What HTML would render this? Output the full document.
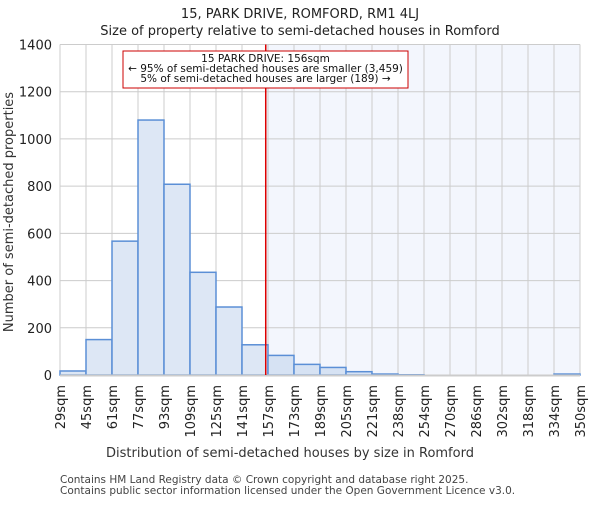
<!DOCTYPE html>
<html><head><meta charset="utf-8"><style>
body{margin:0;background:#fff;}
svg{font-family:"DejaVu Sans","Liberation Sans",sans-serif;}
</style></head><body>
<svg width="600" height="500" xmlns="http://www.w3.org/2000/svg">
<g id="chart"></g>
</svg>
<script>
const binLabels=["29sqm","45sqm","61sqm","77sqm","93sqm","109sqm","125sqm","141sqm","157sqm","173sqm","189sqm","205sqm","221sqm","238sqm","254sqm","270sqm","286sqm","302sqm","318sqm","334sqm","350sqm"];
const counts=[17,150,567,1080,808,435,288,128,83,45,32,14,4,1,0,0,0,0,0,4];
const yTicks=[0,200,400,600,800,1000,1200,1400];
const markerValue=156;
const binStart=29, binWidth=16.05;
const x0=60,x1=580,yTop=44.5,yBot=375,yMax=1400;
const ns="http://www.w3.org/2000/svg";
const g=document.getElementById('chart');
const nb=counts.length, bw=(x1-x0)/nb;
const xb=i=>x0+i*bw;
const y=v=>yBot-(v/yMax)*(yBot-yTop);
const xv=v=>x0+(v-binStart)/(binWidth*nb)*(x1-x0);
function el(t,a,txt){const e=document.createElementNS(ns,t);for(const k in a)e.setAttribute(k,a[k]);if(txt!==undefined)e.textContent=txt;g.appendChild(e);return e;}
const mx=xv(markerValue);
let shade=el('rect',{x:mx,y:yTop,width:x1-mx,height:yBot-yTop,fill:'#f3f6fd'});


for(let i=0;i<=nb;i++){let l=el('line',{x1:xb(i),x2:xb(i),y1:yTop,y2:yBot,stroke:'#cccccc','stroke-width':1});

}
yTicks.forEach(v=>{let l=el('line',{x1:x0,x2:x1,y1:y(v),y2:y(v),stroke:'#cccccc','stroke-width':1});


let t=el('text',{x:x0-8,y:y(v)+5,'text-anchor':'end','font-size':13,fill:'#222'},String(v));

});
counts.forEach((c,i)=>{if(c<=0)return;const left=xb(i)>=mx-1;
let r=el('rect',{x:xb(i),y:y(c),width:bw,height:yBot-y(c),fill:left?'#d6e2f3':'#dde7f5',stroke:'#5b8fd6','stroke-width':1.5});

});
let ax=el('line',{x1:x0,x2:x1,y1:yBot+0.5,y2:yBot+0.5,stroke:'#cccccc','stroke-width':2});


binLabels.forEach((s,i)=>{const X=xb(i)+5;let t=el('text',{x:0,y:0,'text-anchor':'end','font-size':13,fill:'#222',transform:`translate(${X},${yBot+10}) rotate(-90)`},s);

});
let ml=el('line',{x1:mx,x2:mx,y1:yTop,y2:yBot,stroke:'#dd0000','stroke-width':1.5});


let box=el('rect',{x:123,y:51,width:285,height:37,fill:'#fff',stroke:'#cc0000','stroke-width':1});


["15 PARK DRIVE: 156sqm","← 95% of semi-detached houses are smaller (3,459)","5% of semi-detached houses are larger (189) →"].forEach((s,i)=>{
let t=el('text',{x:265.5,y:62+i*10,'text-anchor':'middle','font-size':10.5,fill:'#111'},s);

});
let t1=el('text',{x:300,y:18,'text-anchor':'middle','font-size':13,fill:'#222'},"15, PARK DRIVE, ROMFORD, RM1 4LJ");


let t2=el('text',{x:300,y:35,'text-anchor':'middle','font-size':13,fill:'#222'},"Size of property relative to semi-detached houses in Romford");


let yt=el('text',{x:0,y:0,'text-anchor':'middle','font-size':13,fill:'#333',transform:'translate(13,212) rotate(-90)'},"Number of semi-detached properties");


let xt=el('text',{x:290,y:457,'text-anchor':'middle','font-size':13,fill:'#333'},"Distribution of semi-detached houses by size in Romford");


let f1=el('text',{x:60,y:483,'font-size':10.5,fill:'#444'},"Contains HM Land Registry data © Crown copyright and database right 2025.");


let f2=el('text',{x:60,y:494,'font-size':10.5,fill:'#444'},"Contains public sector information licensed under the Open Government Licence v3.0.");


</script>
</body></html>
